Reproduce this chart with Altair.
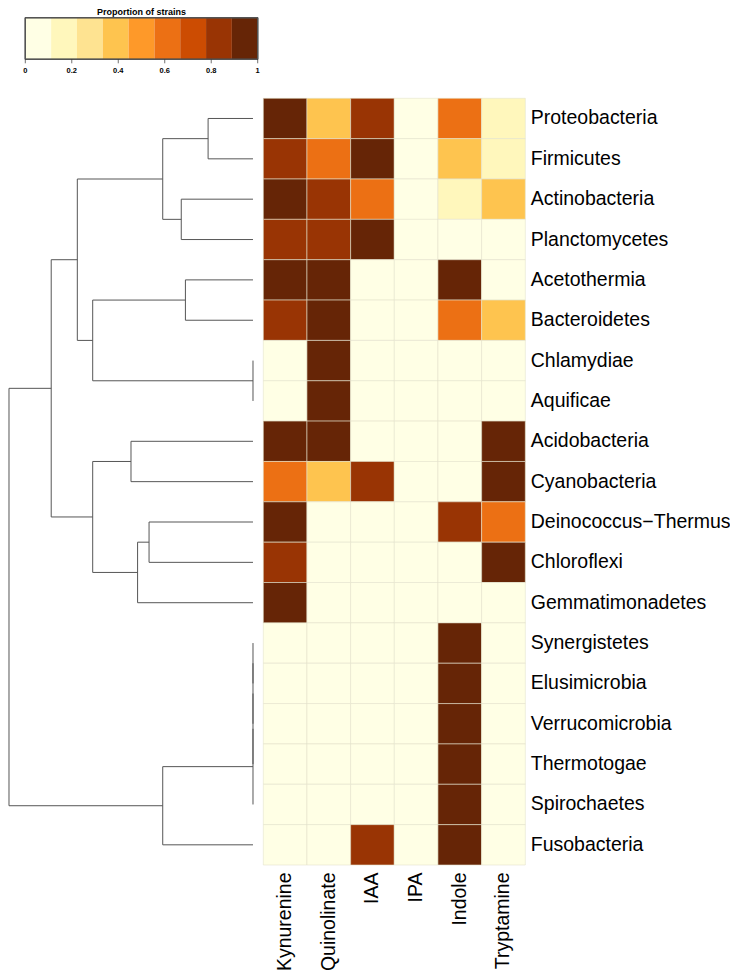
import altair as alt
import pandas as pd

taxa = ["Proteobacteria", "Firmicutes", "Actinobacteria", "Planctomycetes",
        "Acetothermia", "Bacteroidetes", "Chlamydiae", "Aquificae",
        "Acidobacteria", "Cyanobacteria", "Deinococcus−Thermus", "Chloroflexi",
        "Gemmatimonadetes", "Synergistetes", "Elusimicrobia", "Verrucomicrobia",
        "Thermotogae", "Spirochaetes", "Fusobacteria"]
metabolites = ["Kynurenine", "Quinolinate", "IAA", "IPA", "Indole", "Tryptamine"]

kynurenine = [0.95, 0.85, 0.95, 0.85, 1.0, 0.85, 0, 0, 1.0, 0.6, 1.0, 0.85, 1.0, 0, 0, 0, 0, 0, 0]
quinolinate = [0.4, 0.6, 0.85, 0.85, 1.0, 1.0, 1.0, 1.0, 1.0, 0.4, 0, 0, 0, 0, 0, 0, 0, 0, 0]
iaa = [0.85, 0.95, 0.6, 1.0, 0, 0, 0, 0, 0, 0.85, 0, 0, 0, 0, 0, 0, 0, 0, 0.85]
ipa = [0] * 19
indole = [0.6, 0.4, 0.15, 0, 1.0, 0.6, 0, 0, 0, 0, 0.85, 0, 0, 1.0, 1.0, 1.0, 1.0, 1.0, 1.0]
tryptamine = [0.15, 0.15, 0.4, 0, 0, 0.4, 0, 0, 1.0, 1.0, 0.6, 1.0, 0, 0, 0, 0, 0, 0, 0]

palette = ["#ffffe5", "#fff7bc", "#fee391", "#fec44f", "#fe9929",
           "#ec7014", "#cc4c02", "#993404", "#662506"]
legend_ticks = [0, 0.2, 0.4, 0.6, 0.8, 1]
legend_tick_labels = ["0", "0.2", "0.4", "0.6", "0.8", "1"]
legend_title = "Proportion of strains"

# hierarchical clustering merges: (child a, child b, height); ints refer to earlier merges
merges = [
    ("Proteobacteria", "Firmicutes", 0.184),
    ("Actinobacteria", "Planctomycetes", 0.294),
    (0, 1, 0.370),
    ("Acetothermia", "Bacteroidetes", 0.277),
    ("Chlamydiae", "Aquificae", 0.0),
    (3, 4, 0.657),
    (2, 5, 0.720),
    ("Acidobacteria", "Cyanobacteria", 0.500),
    ("Deinococcus−Thermus", "Chloroflexi", 0.426),
    (8, "Gemmatimonadetes", 0.473),
    (7, 9, 0.657),
    (6, 10, 0.827),
    ("Synergistetes", "Elusimicrobia", 0.0),
    (12, "Verrucomicrobia", 0.0),
    (13, "Thermotogae", 0.0),
    (14, "Spirochaetes", 0.0),
    (15, "Fusobacteria", 0.370),
    (11, 16, 1.0),
]

# heatmap table
cols = [kynurenine, quinolinate, iaa, ipa, indole, tryptamine]
rows = []
for m, vals in zip(metabolites, cols):
    for t, v in zip(taxa, vals):
        rows.append({"taxon": t, "metabolite": m, "value": v})
heat_df = pd.DataFrame(rows)

# dendrogram segments
pos = {}
hgt = {}
for i, t in enumerate(taxa):
    pos[t] = float(i)
    hgt[t] = 0.0
segs = []
for k, (a, b, h) in enumerate(merges):
    ya, yb = pos[a], pos[b]
    segs.append({"x": h, "x2": h, "y": ya, "y2": yb})
    if hgt[a] != h:
        segs.append({"x": hgt[a], "x2": h, "y": ya, "y2": ya})
    if hgt[b] != h:
        segs.append({"x": hgt[b], "x2": h, "y": yb, "y2": yb})
    pos[k] = (ya + yb) / 2
    hgt[k] = h
seg_df = pd.DataFrame(segs)

# legend bins
n = len(palette)
bins_df = pd.DataFrame({"lo": [k / n for k in range(n)],
                        "hi": [(k + 1) / n for k in range(n)],
                        "mid": [(k + 0.5) / n for k in range(n)]})
ticks_df = pd.DataFrame({"t": legend_ticks, "label": legend_tick_labels})

FONT = "Liberation Sans"
Y0, Y1 = 90.3, 857.0
HX0, HX1 = 254.3, 516.3
LX0, LX1 = 16.3, 248.7
LY0, LY1 = 9.7, 51.3

color_scale = alt.Scale(type="quantize", domain=[0, 1], range=palette, nice=False, zero=False)

dendro = alt.Chart(seg_df).mark_rule(color="#555555", strokeWidth=1).encode(
    x=alt.X("x:Q", axis=None, scale=alt.Scale(domain=[0, 1], range=[244, 0], nice=False, zero=False)),
    x2="x2:Q",
    y=alt.Y("y:Q", axis=None, scale=alt.Scale(domain=[-0.5, 18.5], range=[Y0, Y1], nice=False, zero=False)),
    y2="y2:Q",
)

heat = alt.Chart(heat_df).mark_rect(stroke="#e4e2cc", strokeWidth=0.6).encode(
    x=alt.X("metabolite:N", sort=metabolites,
            scale=alt.Scale(domain=metabolites, range=[HX0, HX1], paddingInner=0, paddingOuter=0),
            axis=alt.Axis(orient="bottom", title=None, labelAngle=-90, labelFontSize=19.5,
                          labelFont=FONT, labelColor="black", labelPadding=7,
                          ticks=False, domain=False, labelLimit=200)),
    y=alt.Y("taxon:N", sort=taxa,
            scale=alt.Scale(domain=taxa, range=[Y0, Y1], paddingInner=0, paddingOuter=0),
            axis=alt.Axis(orient="right", title=None, labelFontSize=19.5, labelFont=FONT,
                          labelColor="black", labelPadding=5, ticks=False, domain=False,
                          labelLimit=300)),
    color=alt.Color("value:Q", scale=color_scale, legend=None),
)

lx = alt.Scale(domain=[0, 1], range=[LX0, LX1], nice=False, zero=False)

leg_bins = alt.Chart(bins_df).mark_rect(strokeWidth=0).encode(
    x=alt.X("lo:Q", scale=lx, axis=None),
    x2="hi:Q",
    y=alt.value(LY0), y2=alt.value(LY1),
    color=alt.Color("mid:Q", scale=color_scale, legend=None),
)
leg_frame = alt.Chart(ticks_df).mark_rect(fill=None, stroke="#555555", strokeWidth=0.7).encode(
    x=alt.datum(0, scale=lx, axis=None), x2=alt.datum(1),
    y=alt.value(LY0), y2=alt.value(LY1),
)
leg_ticks = alt.Chart(ticks_df).mark_rule(color="#333333", strokeWidth=0.7).encode(
    x=alt.X("t:Q", scale=lx, axis=None),
    y=alt.value(LY1), y2=alt.value(LY1 + 4),
)
leg_labels = alt.Chart(ticks_df).mark_text(fontSize=7.5, fontWeight="bold", font=FONT,
                                           baseline="top", align="center", color="black").encode(
    x=alt.X("t:Q", scale=lx, axis=None),
    y=alt.value(LY1 + 8),
    text="label:N",
)
leg_title = alt.Chart(pd.DataFrame({"title": [legend_title]})).mark_text(
    fontSize=9, fontWeight="bold", font=FONT, baseline="top", align="center", color="black"
).encode(
    x=alt.datum(0.5, scale=lx, axis=None),
    y=alt.value(0),
    text="title:N",
)
legend = alt.layer(leg_bins, leg_frame, leg_ticks, leg_labels, leg_title)

chart = alt.layer(dendro, heat, legend).resolve_scale(
    x="independent", y="independent"
).properties(
    width=HX1, height=Y1,
    padding={"left": 0, "top": 0, "right": 0, "bottom": 2},
    background="white",
).configure_view(stroke=None)

chart.save("out.html", embed_options={"renderer": "svg", "actions": False})
